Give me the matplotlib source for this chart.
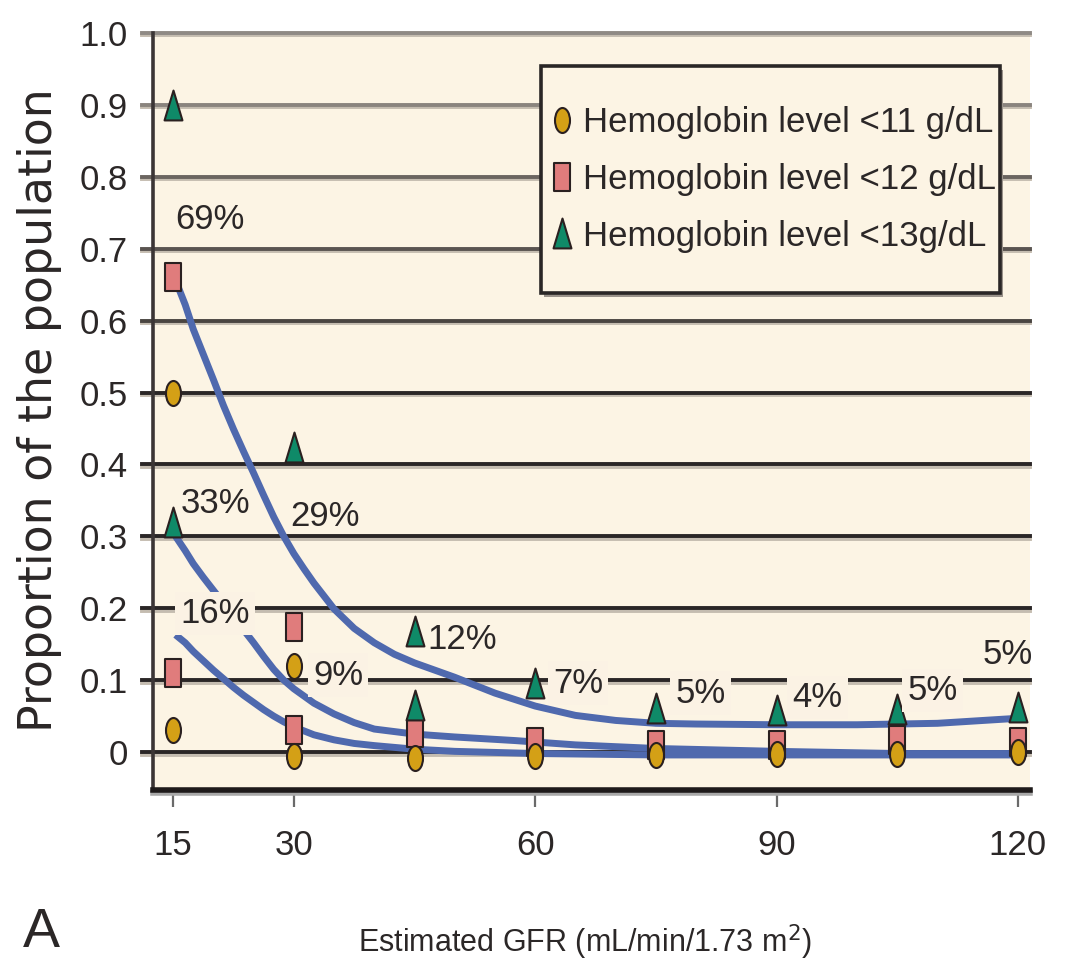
#!/usr/bin/env python3
import matplotlib
matplotlib.use("Agg")
import matplotlib.pyplot as plt
import matplotlib.patheffects as pe
import matplotlib.transforms as mtransforms
from matplotlib.path import Path
from matplotlib.patches import Rectangle

# GFR (x) positions and proportion values
circle_x = [15, 15, 30, 30, 45, 60, 75, 90, 105, 120]
circle_y = [0.50, 0.03, 0.12, -0.005, -0.008, -0.005, -0.004, -0.003, -0.003, 0.0]
square_x = [15, 15, 30, 30, 45, 60, 75, 90, 105, 120]
square_y = [0.66, 0.11, 0.174, 0.031, 0.027, 0.014, 0.010, 0.010, 0.017, 0.014]
tri_x = [15, 15, 30, 45, 45, 60, 75, 90, 105, 120]
tri_y = [0.90, 0.32, 0.424, 0.168, 0.065, 0.096, 0.061, 0.058, 0.060, 0.063]

# fitted trend curves
curve_a_x = [15.3, 16.5, 17.5, 18.75, 20, 21.25, 22.5, 23.75, 25, 26.25, 27.5, 28.75, 30, 31.25, 32.5,
             35, 37.5, 40, 42.5, 45, 50, 55, 60, 65, 70, 75, 80, 90, 100, 110, 120]
curve_a_y = [0.656, 0.622, 0.588, 0.553, 0.518, 0.482, 0.449, 0.418, 0.388, 0.357, 0.327, 0.300,
             0.276, 0.255, 0.235, 0.199, 0.172, 0.152, 0.136, 0.124, 0.104, 0.082, 0.064, 0.051,
             0.044, 0.040, 0.039, 0.038, 0.038, 0.040, 0.047]
curve_b_x = [15.3, 16.5, 17.5, 18.75, 20, 21.25, 22.5, 23.75, 25, 26.25, 27.5, 28.75, 30, 32.5, 35,
             37.5, 40, 45, 50, 57.5, 65, 75, 90, 105, 120]
curve_b_y = [0.300, 0.280, 0.262, 0.243, 0.225, 0.207, 0.189, 0.170, 0.152, 0.133, 0.115, 0.100,
             0.088, 0.068, 0.053, 0.041, 0.032, 0.025, 0.021, 0.016, 0.010, 0.005, 0.001, -0.002, -0.002]
curve_c_x = [15.3, 16.5, 17.5, 18.75, 20, 21.25, 22.5, 23.75, 25, 26.25, 27.5, 28.75, 30, 32.5, 35,
             37.5, 40, 45, 50, 60, 75, 90, 120]
curve_c_y = [0.163, 0.152, 0.140, 0.127, 0.114, 0.102, 0.090, 0.079, 0.069, 0.059, 0.050, 0.042,
             0.035, 0.024, 0.017, 0.012, 0.009, 0.004, 0.001, -0.002, -0.004, -0.004, -0.004]

# percentage annotations: text, x, y, boxed
pct_text = ["69%", "33%", "29%", "16%", "9%", "12%", "7%", "5%", "4%", "5%", "5%"]
pct_x = [15.3, 15.9, 29.5, 15.9, 32.4, 46.6, 62.2, 77.4, 92.0, 106.3, 115.6]
pct_y = [0.74, 0.346, 0.327, 0.193, 0.107, 0.156, 0.096, 0.082, 0.076, 0.086, 0.135]
pct_boxed = [False, False, False, True, True, False, True, True, True, True, False]

yticks = [0, 0.1, 0.2, 0.3, 0.4, 0.5, 0.6, 0.7, 0.8, 0.9, 1.0]
ytick_labels = ["0", "0.1", "0.2", "0.3", "0.4", "0.5", "0.6", "0.7", "0.8", "0.9", "1.0"]
xticks = [15, 30, 60, 90, 120]

legend_labels = ["Hemoglobin level <11 g/dL", "Hemoglobin level <12 g/dL", "Hemoglobin level <13g/dL"]

BG = "#fcf4e4"
INK = "#2b2727"
FONT = ["Liberation Sans", "DejaVu Sans"]

ellipse = Path.unit_circle().transformed(mtransforms.Affine2D().scale(0.6, 1.0))
rect = Path.unit_rectangle().transformed(mtransforms.Affine2D().translate(-0.5, -0.5).scale(1.2, 2.0))
tri = Path([(0, 1), (-0.6, -1), (0.6, -1), (0, 1)],
           [Path.MOVETO, Path.LINETO, Path.LINETO, Path.CLOSEPOLY])


def main():
    fig = plt.figure(figsize=(10.71, 9.67), dpi=100)
    ax = fig.add_axes([0.1429, 0.1830, 0.8188, 0.7829])
    ax.set_facecolor(BG)
    ax.set_xlim(12.5, 121.5)
    ax.set_ylim(-0.0528, 1.0)

    grid_colors = ["#2a2626"] * 6 + ["#4a4541", "#5a5450", "#6b6560", "#8a847e", "#8f8a85"]
    shadow = [pe.SimpleLineShadow(offset=(0, -1.8), shadow_color="#c4bcb0", alpha=1.0), pe.Normal()]
    for v, c in zip(yticks, grid_colors):
        ax.axhline(v, xmin=-11 / 877, xmax=1, color=c, lw=2.8, zorder=1,
                   clip_on=False, path_effects=shadow)

    for cx, cy in ((curve_a_x, curve_a_y), (curve_b_x, curve_b_y), (curve_c_x, curve_c_y)):
        ax.plot(cx, cy, color="#4f69ae", lw=5, zorder=2, solid_capstyle="butt",
                solid_joinstyle="round")

    edge = "#2a2020"
    ax.plot(square_x, square_y, ls="none", marker=rect, ms=19.5, mfc="#e07c7c", mec=edge, mew=1.5,
            zorder=4, label=legend_labels[1])
    ax.plot(circle_x, circle_y, ls="none", marker=ellipse, ms=18, mfc="#d4a016", mec=edge, mew=1.5,
            zorder=5, label=legend_labels[0])
    ax.plot(tri_x, tri_y, ls="none", marker=tri, ms=21.5, mfc="#0f8a68", mec=edge, mew=1.5,
            zorder=6, label=legend_labels[2])

    for t, x, y, boxed in zip(pct_text, pct_x, pct_y, pct_boxed):
        kw = {}
        if boxed:
            kw["bbox"] = dict(boxstyle="square,pad=0.15", fc="#fbf2e4", ec="none")
        ax.text(x, y, t, family=FONT, fontsize=25, color=INK, ha="left", va="center",
                zorder=7, **kw)

    ax.set_yticks(yticks)
    ax.set_yticklabels(ytick_labels, family=FONT, fontsize=25, color=INK)
    ax.set_xticks(xticks)
    ax.set_xticklabels([str(v) for v in xticks], family=FONT, fontsize=25, color=INK)
    ax.tick_params(axis="y", length=0, pad=18)
    ax.tick_params(axis="x", length=12, width=1.6, color="#6a6a6a", pad=16, direction="out")

    for side in ("top", "right"):
        ax.spines[side].set_visible(False)
    ax.spines["left"].set_color("#3b3535")
    ax.spines["left"].set_linewidth(2.6)
    ax.spines["bottom"].set_color("#1e1a1a")
    ax.spines["bottom"].set_linewidth(4)
    ax.spines["bottom"].set_path_effects(
        [pe.SimpleLineShadow(offset=(0, -2), shadow_color="#a8a8a8", alpha=1.0), pe.Normal()])

    # legend frame drawn by hand so the padding can differ vertically and horizontally
    box = (541 / 1071, 1 - 293 / 967, 459 / 1071, 227 / 967)
    fig.patches.append(Rectangle((box[0] + 0.003, box[1] - 0.004), box[2], box[3],
                                 transform=fig.transFigure, fc="#9a928a", ec="none", zorder=8))
    fig.patches.append(Rectangle(box[:2], box[2], box[3], transform=fig.transFigure,
                                 fc=BG, ec="#2a2626", lw=2.6, zorder=9))

    handles, labels = ax.get_legend_handles_labels()
    order = [1, 0, 2]
    leg = fig.legend([handles[i] for i in order], [labels[i] for i in order],
                     loc="center", bbox_to_anchor=(box[0] + box[2] / 2 + 0.004, box[1] + box[3] / 2),
                     prop={"family": FONT, "size": 25}, frameon=False, handlelength=0.5,
                     handletextpad=0.35, labelspacing=0.68, borderpad=0)
    for txt in leg.get_texts():
        txt.set_color(INK)
    leg.set_zorder(10)

    fig.text(40 / 1071, 1 - 410 / 967, "Proportion of the population", rotation=90,
             family=["DejaVu Sans"], fontsize=33, color=INK, ha="center", va="center")
    fig.text(585 / 1071, 1 - 942 / 967, "Estimated GFR (mL/min/1.73 m$^2$)",
             family=FONT, fontsize=22, color=INK, ha="center", va="center")
    fig.text(41 / 1071, 1 - 933 / 967, "A", family=FONT, fontsize=40, color=INK,
             ha="center", va="center")

    fig.savefig("out.png", dpi=100, facecolor="white")


if __name__ == "__main__":
    main()
